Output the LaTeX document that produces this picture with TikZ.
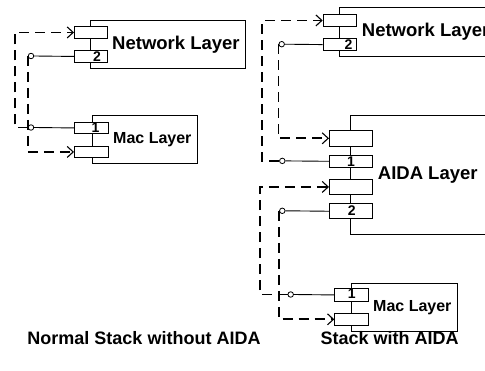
\documentclass[tikz,border=0pt]{standalone}
\usepackage{fontspec}
\setmainfont{Liberation Sans}
\usetikzlibrary{arrows.meta}

\begin{document}
\begin{tikzpicture}[x=1pt,y=-1pt,
	layer/.style={draw,line width=0.9pt,anchor=north west,inner sep=0pt},
	port/.style={draw,fill=white,line width=0.9pt,anchor=north west,inner sep=0pt},
	iface/.style={circle,draw,fill=white,line width=0.8pt,inner sep=0pt,minimum size=5.5pt},
	dline/.style={dash pattern=on 10pt off 6pt,line width=1.8pt},
	dep/.style={dline,-{Straight Barb[length=6pt,width=11pt,line width=1.1pt]}},
	wire/.style={line width=0.9pt},
	bigname/.style={font=\fontsize{18.5}{20}\selectfont\bfseries,inner sep=0pt,anchor=base west},
	smallname/.style={font=\fontsize{16}{18}\selectfont\bfseries,inner sep=0pt,anchor=base west},
	num/.style={font=\fontsize{14}{15}\selectfont\bfseries,inner sep=0pt,anchor=base},
	caption/.style={font=\fontsize{18}{20}\selectfont\bfseries,inner sep=0pt,anchor=base}]

	\useasboundingbox (0,0) rectangle (485,371);
	\clip (0,0) rectangle (485,371);

	% normal stack
	\node[layer,minimum width=155pt,minimum height=48pt] (netL) at (90,20) {};
	\node[layer,minimum width=105pt,minimum height=48pt] (macL) at (92,115) {};
	\node[bigname] (netLtxt) at (112,50) {Network Layer};
	\node[smallname] (macLtxt) at (113,143.3) {Mac Layer};

	% stack with AIDA
	\node[layer,minimum width=170pt,minimum height=48.7pt] (netR) at (339.3,7.3) {};
	\node[layer,minimum width=160pt,minimum height=119.3pt] (aida) at (350,115) {};
	\node[layer,minimum width=105.7pt,minimum height=47.7pt] (macR) at (351,283.3) {};
	\node[bigname] (netRtxt) at (361.7,36.7) {Network Layer};
	\node[bigname] (aidatxt) at (377.7,180) {AIDA Layer};
	\node[smallname] (macRtxt) at (373,312) {Mac Layer};

	% interfaces
	\node[iface] (ifL1) at (31,127.5) {};
	\node[iface] (ifL2) at (31,56) {};
	\node[iface] (ifR1) at (282.3,160.9) {};
	\node[iface] (ifR2) at (281.7,44.2) {};
	\node[iface] (ifR3) at (282.3,210.8) {};
	\node[iface] (ifR4) at (290.7,294.5) {};

	% ports
	\node[port,minimum width=33pt,minimum height=12pt] (nL1) at (74,26) {};
	\node[port,minimum width=33pt,minimum height=12pt] (nL2) at (74,50) {};
	\node[port,minimum width=34pt,minimum height=11pt] (mL1) at (74,122) {};
	\node[port,minimum width=34pt,minimum height=11pt] (mL2) at (74,146) {};
	\node[port,minimum width=33.3pt,minimum height=12pt] (nR1) at (322.7,14) {};
	\node[port,minimum width=33.3pt,minimum height=11.7pt] (nR2) at (322.7,38.3) {};
	\node[port,minimum width=43.3pt,minimum height=15.7pt] (aA) at (329,130) {};
	\node[port,minimum width=43.3pt,minimum height=11.7pt] (a1) at (329,155) {};
	\node[port,minimum width=43.3pt,minimum height=15pt] (aB) at (329,179) {};
	\node[port,minimum width=43.3pt,minimum height=15pt] (a2) at (329,203.3) {};
	\node[port,minimum width=34pt,minimum height=12.4pt] (mR1) at (334.3,288.3) {};
	\node[port,minimum width=34pt,minimum height=12.3pt] (mR2) at (334.3,312.7) {};

	\node[num] (nL2n) at (97,61.5) {2};
	\node[num] (mL1n) at (95.5,133) {1};
	\node[num] (nR2n) at (348.5,49.5) {2};
	\node[num] (a1n) at (351,166.7) {1};
	\node[num] (a2n) at (351.7,215.7) {2};
	\node[num] (mR1n) at (351.7,299) {1};

	% bends
	\coordinate (bL1) at (15,127.5);
	\coordinate (bR1) at (262.3,160.9);
	\coordinate (bR4) at (260,294.5);

	% dependencies
	\draw[dep] (ifL1.west) -- (bL1) |- (nL1.west);
	\draw[dep] (ifL2.west) |- (mL2.west);
	\draw[dep] (ifR1.west) -- (bR1) |- (nR1.west);
	\draw[dep] (ifR2.west) |- (aA.west);
	\draw[dep] (ifR3.west) |- (mR2.west);
	\draw[dep] (ifR4.west) -- (bR4) |- (aB.west);

	% provided interfaces
	\draw[wire] (mL1.west) -- (ifL1.east);
	\draw[wire] (nL2.west) -- (ifL2.east);
	\draw[wire] (a1.west) -- (ifR1.east);
	\draw[wire] (nR2.west) -- (ifR2.east);
	\draw[wire] (a2.west) -- (ifR3.east);
	\draw[wire] (mR1.west) -- (ifR4.east);

	\node[caption] (capL) at (144,345) {Normal Stack without AIDA};
	\node[caption] (capR) at (389.7,345) {Stack with AIDA};
\end{tikzpicture}
\end{document}
